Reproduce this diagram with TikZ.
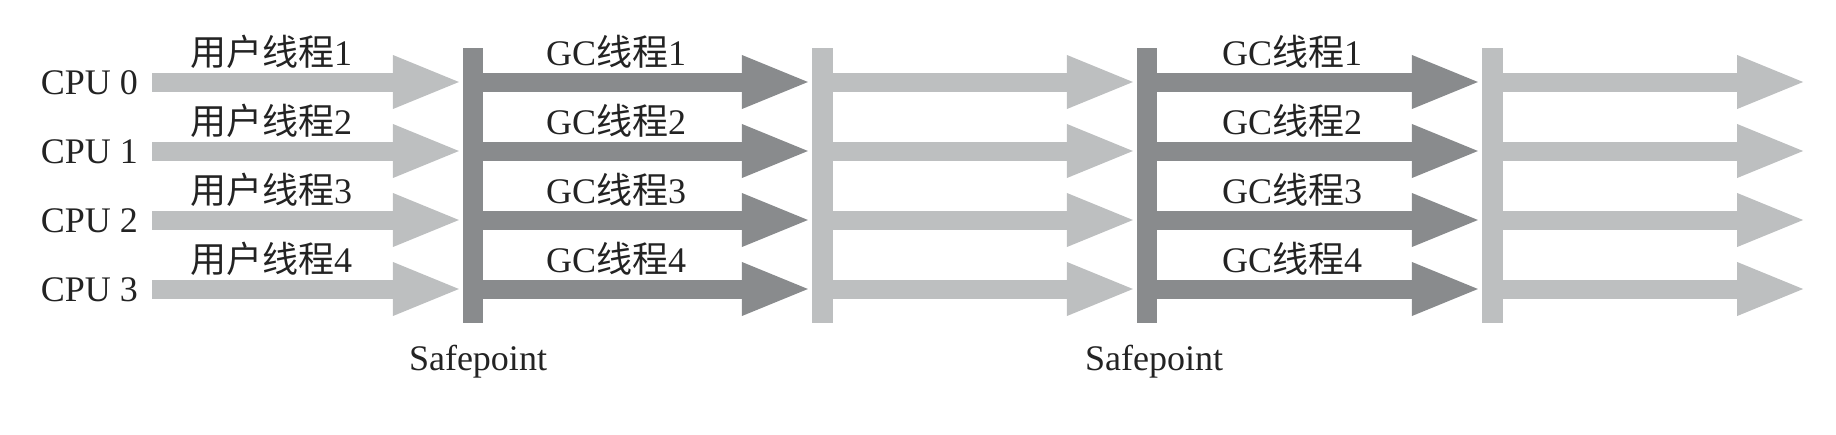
\documentclass[tikz,border=0pt]{standalone}
\usepackage{fontspec}
\setmainfont{Liberation Serif}
\newfontfamily\cjk{Noto Sans CJK SC}
\usetikzlibrary{arrows.meta}
\definecolor{lightg}{RGB}{189,191,192}
\definecolor{darkg}{RGB}{137,139,141}
\definecolor{txt}{RGB}{35,35,35}
\begin{document}
\begin{tikzpicture}[x=1pt,y=-1pt,
  barL/.style={fill=lightg, draw=none, minimum width=21pt, minimum height=275pt, inner sep=0pt},
  barD/.style={fill=darkg, draw=none, minimum width=20pt, minimum height=275pt, inner sep=0pt},
  arrL/.style={draw=lightg, line width=19pt, -{Triangle[length=70pt,width=48pt]}},
  arrD/.style={draw=darkg, line width=19pt, -{Triangle[length=70pt,width=48pt]}},
  lbl/.style={font=\fontsize{36pt}{40pt}\selectfont, text=txt, inner sep=0pt}]
\useasboundingbox (0,0) rectangle (1836,434);
\node[barD] (b1) at (473,185.5) {};
\node[barL] (b2) at (822.5,185.5) {};
\node[barD] (b3) at (1147,185.5) {};
\node[barL] (b4) at (1492.5,185.5) {};
\foreach \i/\y in {0/82,1/151,2/220,3/289}{
  \pgfmathtruncatemacro\rowno{\i+1}
  \coordinate (s\i) at (152,\y);
  \coordinate (e\i) at (1807,\y);
  \node[lbl, anchor=base east] (cpu\i) at (138,\y+12) {CPU \i};
  \node[lbl, anchor=base west] (u\i) at (190,\y-17) {{\cjk 用户线程}\rowno};
  \node[lbl, anchor=base west] (ga\i) at (546,\y-17) {GC{\cjk 线程}\rowno};
  \node[lbl, anchor=base west] (gb\i) at (1222,\y-17) {GC{\cjk 线程}\rowno};
  \draw[arrL] (s\i) -- (s\i -| b1.west);
  \draw[arrD] (s\i -| b1.east) -- (s\i -| b2.west);
  \draw[arrL] (s\i -| b2.east) -- (s\i -| b3.west);
  \draw[arrD] (s\i -| b3.east) -- (s\i -| b4.west);
  \draw[arrL] (s\i -| b4.east) -- (e\i);
}
\node[lbl, anchor=base] (sp1) at (478,370) {Safepoint};
\node[lbl, anchor=base] (sp2) at (1154,370) {Safepoint};
\end{tikzpicture}
\end{document}
